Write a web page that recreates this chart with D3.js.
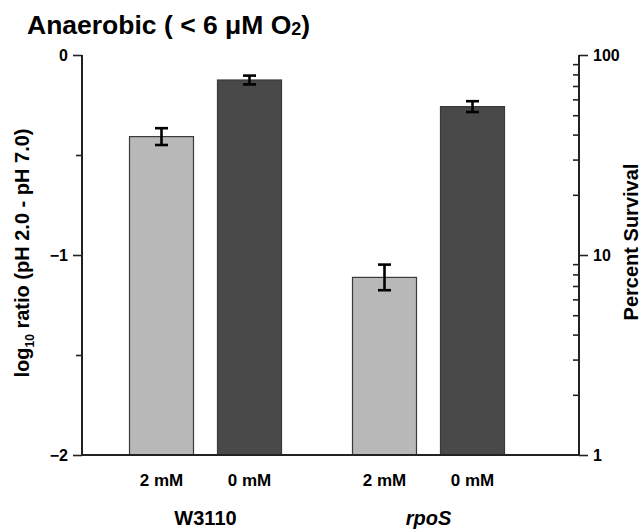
<!DOCTYPE html>
<html><head><meta charset="utf-8">
<script src="https://cdn.jsdelivr.net/npm/d3@7"></script>
<style>body{margin:0;background:#fff}text{font-family:"Liberation Sans",Arial,sans-serif;font-weight:bold;fill:#000}</style>
</head><body><svg id="c" width="644" height="530"></svg>
<script>
const strains = ["W3110", "rpoS"];
const conditions = ["2 mM", "0 mM"];
const values = [[-0.408, -0.125], [-1.112, -0.258]];
const errors = [[0.042, 0.022], [0.064, 0.027]];
const leftTicks = [0, -1, -2];
const leftMinor = [-0.5, -1.5];
const rightTicks = [1, 10, 100];
const colors = ["#b8b8b8", "#494949"];

const svg = d3.select("#c");
const L = 82, R = 579, T = 55, B = 455;
const y = d3.scaleLinear().domain([-2, 0]).range([B, T]);
const yR = d3.scaleLog().domain([1, 100]).range([B, T]);
const x0 = d3.scaleBand().domain(strains).range([94, 540]);
const x1 = d3.scaleBand().domain(conditions).range([0, x0.bandwidth()]).paddingInner(0.2727).paddingOuter(0.4035);

// bars
strains.forEach((s, i) => {
  conditions.forEach((c, j) => {
    const xb = x0(s) + x1(c);
    const v = values[i][j], e = errors[i][j];
    svg.append("rect").attr("x", xb).attr("y", y(v)).attr("width", x1.bandwidth()).attr("height", y(-2) - y(v))
      .attr("fill", colors[j]).attr("stroke", "#3a3a3a").attr("stroke-width", 1.2);
    const cx = xb + x1.bandwidth() / 2;
    const g = svg.append("g").attr("stroke", "#000").attr("stroke-width", 2.6);
    g.append("line").attr("x1", cx).attr("x2", cx).attr("y1", y(v + e)).attr("y2", y(v - e));
    g.append("line").attr("x1", cx - 6.5).attr("x2", cx + 6.5).attr("y1", y(v + e)).attr("y2", y(v + e));
    g.append("line").attr("x1", cx - 6.5).attr("x2", cx + 6.5).attr("y1", y(v - e)).attr("y2", y(v - e));
  });
});

// left axis
const la = svg.append("g").attr("transform", `translate(${L},0)`)
  .call(d3.axisLeft(y).tickValues(leftTicks).tickFormat(d3.format("d")).tickSize(9).tickPadding(5));
la.append("g").call(d3.axisLeft(y).tickValues(leftMinor).tickFormat("").tickSize(6));
// right axis
const minorR = [];
[1, 10].forEach(d => { for (let k = 2; k <= 9; k++) minorR.push(d * k); });
const ra = svg.append("g").attr("transform", `translate(${R},0)`)
  .call(d3.axisRight(yR).tickValues(rightTicks).tickFormat(d3.format("d")).tickSize(9).tickPadding(5));
ra.append("g").call(d3.axisLeft(yR).tickValues(minorR).tickFormat("").tickSize(6));
svg.selectAll(".domain").remove();
svg.selectAll(".tick line").attr("stroke", "#222").attr("stroke-width", 1.6);
svg.selectAll(".tick text").attr("font-size", 16).attr("font-weight", "bold").attr("fill", "#000")
  .attr("font-family", "'Liberation Sans', Arial, sans-serif");
// axis lines
svg.append("line").attr("x1", L).attr("x2", L).attr("y1", T).attr("y2", B).attr("stroke", "#222").attr("stroke-width", 2);
svg.append("line").attr("x1", R).attr("x2", R).attr("y1", T).attr("y2", B).attr("stroke", "#222").attr("stroke-width", 2);
svg.append("line").attr("x1", L - 1).attr("x2", R + 1).attr("y1", B).attr("y2", B).attr("stroke", "#222").attr("stroke-width", 2);

// x labels
strains.forEach(s => {
  conditions.forEach(c => {
    svg.append("text").attr("x", x0(s) + x1(c) + x1.bandwidth() / 2).attr("y", 486)
      .attr("text-anchor", "middle").attr("font-size", 17).text(c);
  });
  svg.append("text").attr("x", x0(s) + x0.bandwidth() / 2).attr("y", 525)
    .attr("text-anchor", "middle").attr("font-size", 20)
    .attr("font-style", s === "rpoS" ? "italic" : "normal").text(s);
});

// title
const t = svg.append("text").attr("x", 27).attr("y", 34).attr("font-size", 26.5);
t.append("tspan").text("Anaerobic ( < 6 μM O");
t.append("tspan").attr("font-size", 18).attr("dy", 1).text("2");
t.append("tspan").attr("dy", -1).text(")");

// left label
const yl = svg.append("text").attr("transform", "translate(29,253) rotate(-90)")
  .attr("text-anchor", "middle").attr("font-size", 20);
yl.append("tspan").text("log");
yl.append("tspan").attr("font-size", 12).attr("dy", 5).text("10");
yl.append("tspan").attr("dy", -5).text(" ratio (pH 2.0 - pH 7.0)");

// right label
svg.append("text").attr("transform", "translate(638,242) rotate(-90)")
  .attr("text-anchor", "middle").attr("font-size", 20).text("Percent Survival");
</script></body></html>
